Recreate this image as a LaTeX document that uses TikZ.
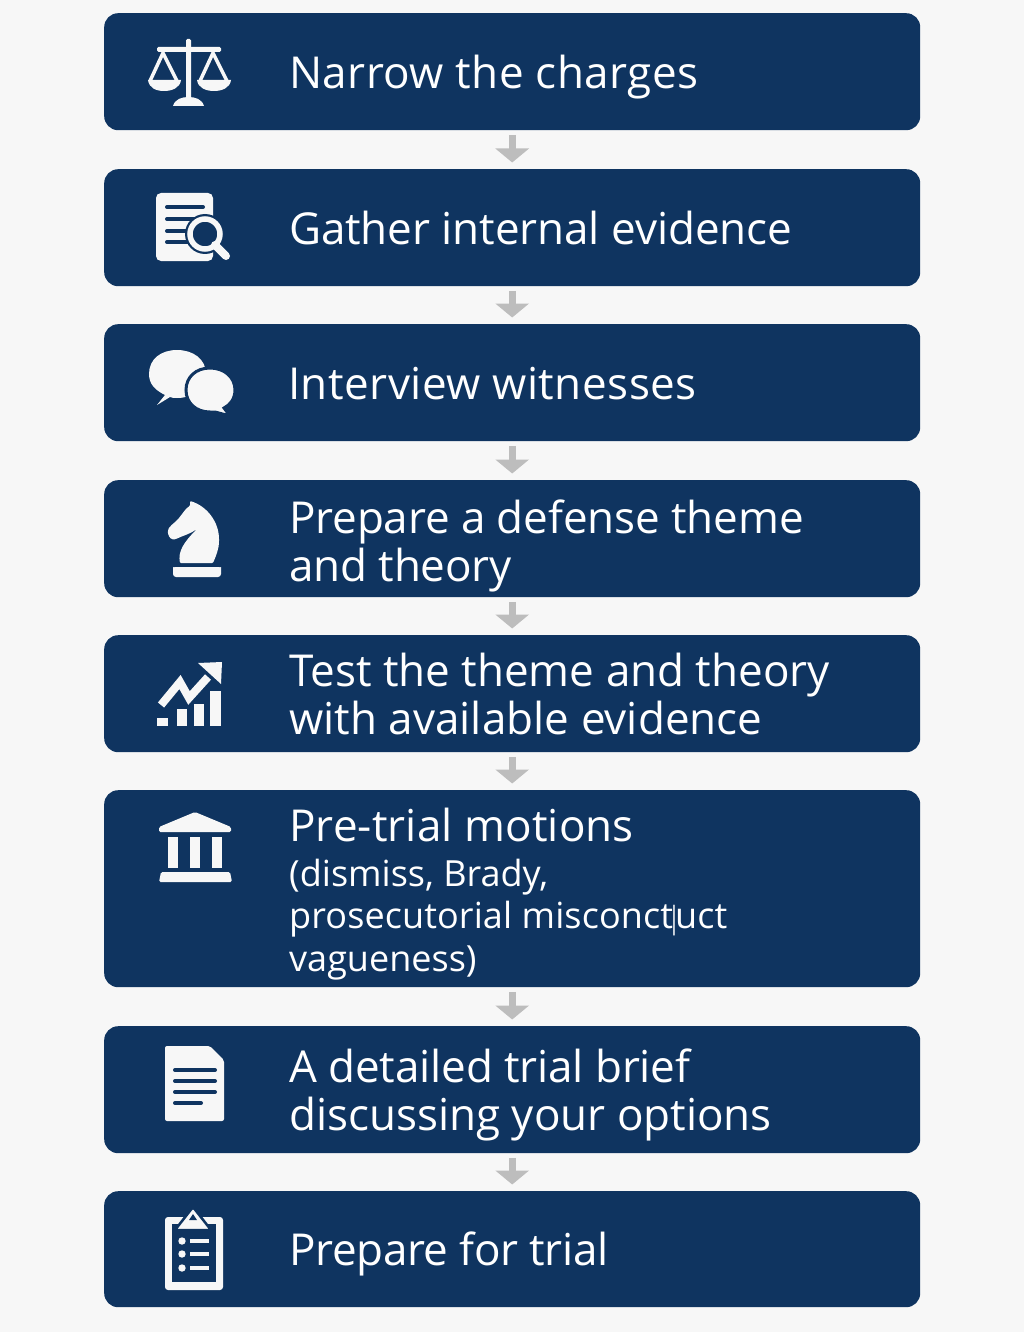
\documentclass[tikz,border=0pt]{standalone}
\usepackage{fontspec}
\setmainfont{Open Sans}
\usetikzlibrary{arrows.meta}
\definecolor{navy}{HTML}{0F3460}
\definecolor{paper}{HTML}{F7F7F7}
\definecolor{arrowgray}{HTML}{BDBDBD}
\newcommand{\spaced}[1]{\addfontfeature{LetterSpace=#1}}
\tikzset{
  stepbox/.style={draw=none,fill=navy,rounded corners=14,minimum width=816,inner sep=0,anchor=north west},
  title/.style={anchor=base west,text=white,inner sep=0,font=\fontsize{44}{48}\selectfont},
  subtitle/.style={anchor=base west,text=white,inner sep=0,font=\fontsize{36}{42}\selectfont},
  flow/.style={draw=arrowgray,line width=7,-{Triangle[width=33,length=14]},shorten >=6.5,shorten <=4.5},
  ink/.style={fill=paper,draw=none},
  cut/.style={draw=navy,line width=4,line cap=round},
}
\begin{document}
\begin{tikzpicture}[x=1pt,y=-1pt]
\useasboundingbox (0,0) rectangle (1024,1332);
\fill[paper] (0,0) rectangle (1024,1332);
% boxes
\node[stepbox,minimum height=117] (b1) at (104,13) {};
\node[stepbox,minimum height=117] (b2) at (104,169) {};
\node[stepbox,minimum height=117] (b3) at (104,324) {};
\node[stepbox,minimum height=117] (b4) at (104,480) {};
\node[stepbox,minimum height=117] (b5) at (104,635) {};
\node[stepbox,minimum height=197] (b6) at (104,790) {};
\node[stepbox,minimum height=127] (b7) at (104,1026) {};
\node[stepbox,minimum height=116] (b8) at (104,1191) {};
% arrows
\foreach \a/\b in {b1/b2,b2/b3,b3/b4,b4/b5,b5/b6,b6/b7,b7/b8}{
  \draw[flow] (\a.south) -- (\b.north);
}
% text
\node[title] (t1) at (289,88.5) {\spaced{1}Narrow the charges};
\node[title] (t2) at (289,244.5) {\spaced{-0.2}Gather internal evidence};
\node[title] (t3) at (288,399.5) {\spaced{1.1}Interview witnesses};
\node[title] (t4a) at (289,533.5) {\spaced{-0.3}Prepare a defense theme};
\node[title] (t4b) at (289,581.5) {\spaced{-0.3}and theory};
\node[title] (t5a) at (289,686.5) {Test the theme and theory};
\node[title] (t5b) at (289,734.5) {\spaced{0.1}with available evidence};
\node[title] (t6a) at (289,841.5) {\spaced{0.3}Pre-trial motions};
\node[subtitle] (t6b) at (289,886.5) {(dismiss, Brady,};
\node[subtitle] (t6c) at (289,928.5) {\spaced{0.3}prosecutorial misconct\makebox[2pt]{\scalebox{0.6}[0.85]{|}}uct};
\node[subtitle] (t6d) at (289,971.5) {vagueness)};
\node[title] (t7a) at (289,1082.5) {\spaced{-0.3}A detailed trial brief};
\node[title] (t7b) at (289,1130.5) {discussing your options};
\node[title] (t8) at (289,1265.5) {\spaced{-0.8}Prepare for trial};
% scales
\fill[ink,rounded corners=1.5] (157,47) rectangle (221,52);
\fill[ink,rounded corners=1.5] (186,39) rectangle (191,100);
\fill[ink] (173,106) .. controls (175,99) and (182,97) .. (188.5,97) .. controls (195,97) and (202,99) .. (204,106) -- cycle;
\draw[paper,line width=3.5,line join=round] (150,81) -- (163,53) -- (177,81);
\draw[paper,line width=3.5,line join=round] (200,81) -- (213,53) -- (227,81);
\fill[ink] (148,80) -- (181,80) .. controls (180,88) and (172,91) .. (164,91) .. controls (156,91) and (149,88) .. (148,80) -- cycle;
\fill[ink] (197,80) -- (231,80) .. controls (230,88) and (222,91) .. (214,91) .. controls (206,91) and (198,88) .. (197,80) -- cycle;
% document + magnifier
\fill[ink,rounded corners=5] (156,193) rectangle (213,261);
\foreach \y in {207,219,231,242}{\draw[cut] (167,\y) -- (203,\y);}
\draw[navy,line width=12,line cap=round] (215,245) -- (226,256);
\fill[navy] (205,234) circle (20);
\draw[paper,line width=8,line cap=round] (215,245) -- (226,256);
\draw[paper,line width=5.5] (205,234) circle (15);
% chat
\fill[ink] (165,395) .. controls (155,390) and (149,384) .. (149,374)
  .. controls (149,359) and (161,350) .. (177,350)
  .. controls (193,350) and (206,359) .. (206,374)
  .. controls (206,389) and (193,398) .. (177,398)
  .. controls (174,398) and (172,398) .. (170,397) -- (157,405) -- cycle;
\draw[navy,line width=3,fill=paper] (186,390) .. controls (186,377) and (196,368) .. (210,368)
  .. controls (224,368) and (235,377) .. (235,390)
  .. controls (235,399) and (230,405) .. (224,408) -- (230,416) -- (215,412)
  .. controls (213,412) and (212,412) .. (210,412)
  .. controls (196,412) and (186,403) .. (186,390) -- cycle;
% knight
\fill[ink,rounded corners=1] (190,501) .. controls (207,506) and (219,522) .. (219,540)
  .. controls (219,549) and (216,556) .. (213,563) -- (180,563)
  .. controls (178,552) and (183,543) .. (197,529)
  .. controls (190,534) and (182,536) .. (176,539)
  .. controls (172,540) and (169,538) .. (168,533)
  .. controls (167,527) and (175,523) .. (179,518)
  .. controls (183,513) and (186,508) .. (190,506) -- cycle;
\fill[ink,rounded corners=3] (173,577) -- (173,570) .. controls (173,568) and (175,567) .. (178,567) -- (216,567) .. controls (219,567) and (221,568) .. (221,570) -- (221,577) -- cycle;
% chart
\foreach \xa/\xb/\yy in {157/168/718,177/187/709,194/204/704,210/221/691}{\fill[ink] (\xa,\yy) rectangle (\xb,726);}
\draw[paper,line width=8] (161,705) -- (180,682) -- (189,698) -- (208,677);
\fill[ink] (198,663) -- (222,662) -- (221,684) -- cycle;
% bank
\fill[ink,rounded corners=1.5] (159,832) -- (159,827) -- (195,812) -- (231,827) -- (231,832) -- cycle;
\foreach \xa in {168,190,212}{\fill[ink] (\xa,837) rectangle ++(10,31);}
\fill[ink,rounded corners=1.5] (161,872) -- (230,872) -- (232,882) -- (159,882) -- cycle;
% document
\fill[ink,rounded corners=2] (165,1046) -- (210,1046) -- (224,1060) -- (224,1121) -- (165,1121) -- cycle;
\foreach \y in {1070,1081,1092}{\draw[cut] (175,\y) -- (215,\y);}
\draw[cut] (175,1103) -- (201,1103);
% clipboard
\fill[ink,rounded corners=3] (165,1217) rectangle (223,1290);
\fill[navy] (172,1224) rectangle (216,1282);
\draw[navy,line width=2.5,fill=paper,rounded corners=2.5] (193,1207) -- (175,1230) -- (211,1230) -- cycle;
\fill[navy] (193,1214) -- (189,1220) -- (197,1220) -- cycle;
\foreach \y in {1241,1254,1268}{
  \fill[ink] (182,\y) circle (3.7);
  \draw[paper,line width=4] (190,\y) -- (209,\y);
}
\end{tikzpicture}
\end{document}
